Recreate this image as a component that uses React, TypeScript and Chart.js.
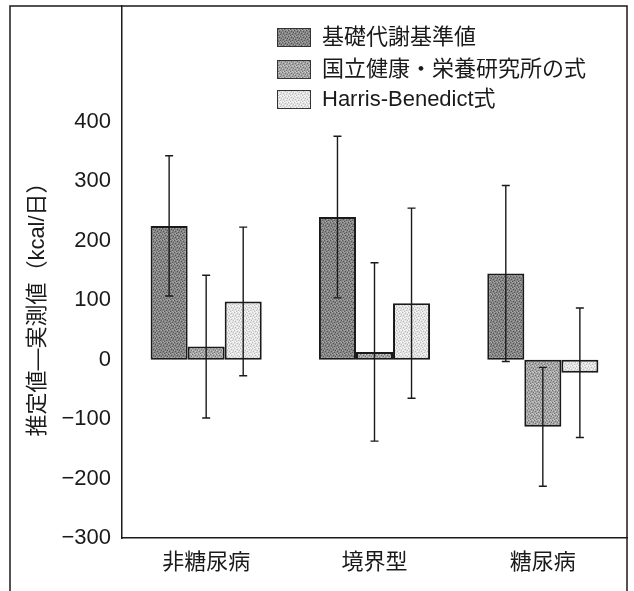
import React, { useEffect, useRef } from 'react';
import { Chart, registerables } from 'chart.js';
Chart.register(...registerables);

const categories = ['非糖尿病', '境界型', '糖尿病'];
const seriesLabels = ['基礎代謝基準値', '国立健康・栄養研究所の式', 'Harris-Benedict式'];
const basalValues = [225, 240, 145];
const basalErrors = [118, 136, 148];
const nationalValues = [22, 13, -113];
const nationalErrors = [120, 150, 100];
const hbValues = [98, 95, -22];
const hbErrors = [125, 160, 109];
const yTicks = [-300, -200, -100, 0, 100, 200, 300, 400];
const yAxisTitle = '推定値—実測値（kcal/日）';

const FONT = '"Liberation Sans", "Noto Sans CJK JP", sans-serif';
const INK = '#1a1a1a';

function makePattern(base: string, darkDot: string, lightDot: string) {
  const c = document.createElement('canvas');
  c.width = 6;
  c.height = 6;
  const g = c.getContext('2d')!;
  g.fillStyle = base;
  g.fillRect(0, 0, 6, 6);
  const dark = [[0, 0], [3, 1], [1, 3], [4, 4], [5, 2], [2, 5]];
  const light = [[2, 0], [5, 0], [0, 2], [3, 3], [1, 5], [4, 5]];
  g.fillStyle = darkDot;
  dark.forEach(([x, y]) => g.fillRect(x, y, 1, 1));
  g.fillStyle = lightDot;
  light.forEach(([x, y]) => g.fillRect(x, y, 1, 1));
  return g.createPattern(c, 'repeat')!;
}

const errorBarPlugin = {
  id: 'errorBars',
  afterDatasetsDraw(chart: any) {
    const ctx = chart.ctx;
    const ys = chart.scales.y;
    chart.data.datasets.forEach((ds: any, i: number) => {
      const meta = chart.getDatasetMeta(i);
      meta.data.forEach((bar: any, j: number) => {
        const v = ds.data[j];
        const e = ds.errors[j];
        const yTop = ys.getPixelForValue(v + e);
        const yBot = ys.getPixelForValue(v - e);
        const x = bar.x;
        ctx.save();
        ctx.strokeStyle = INK;
        ctx.lineWidth = 1.4;
        ctx.beginPath();
        ctx.moveTo(x, yTop);
        ctx.lineTo(x, yBot);
        ctx.moveTo(x - 4, yTop);
        ctx.lineTo(x + 4, yTop);
        ctx.moveTo(x - 4, yBot);
        ctx.lineTo(x + 4, yBot);
        ctx.stroke();
        ctx.restore();
      });
    });
  },
};

const decorPlugin = {
  id: 'decor',
  afterDraw(chart: any) {
    const ctx = chart.ctx;
    const area = chart.chartArea;
    ctx.save();
    // outer frame
    ctx.strokeStyle = INK;
    ctx.lineWidth = 1.5;
    ctx.beginPath();
    ctx.moveTo(10, chart.height);
    ctx.lineTo(10, area.top);
    ctx.lineTo(area.right, area.top);
    ctx.lineTo(area.right, chart.height);
    ctx.stroke();

    // y axis title
    ctx.save();
    ctx.translate(38, 304);
    ctx.rotate(-Math.PI / 2);
    ctx.fillStyle = INK;
    ctx.font = `22px ${FONT}`;
    ctx.textAlign = 'center';
    ctx.textBaseline = 'middle';
    ctx.fillText(yAxisTitle, 0, 0);
    ctx.restore();

    // legend
    const rows = [37, 69, 99];
    chart.data.datasets.forEach((ds: any, i: number) => {
      const cy = rows[i];
      ctx.fillStyle = ds.backgroundColor;
      ctx.fillRect(277, cy - 9, 33, 18);
      ctx.strokeStyle = '#333';
      ctx.lineWidth = 1;
      ctx.strokeRect(277.5, cy - 8.5, 33, 18);
      ctx.fillStyle = INK;
      ctx.font = `22px ${FONT}`;
      ctx.textAlign = 'left';
      ctx.textBaseline = 'middle';
      ctx.fillText(ds.label, 322, cy + 1);
    });
    ctx.restore();
  },
};

export default function App() {
  const ref = useRef<HTMLCanvasElement | null>(null);
  useEffect(() => {
    const canvas = ref.current!;
    const darkP = makePattern('#858585', '#555555', '#aaaaaa');
    const midP = makePattern('#a4a4a4', '#747474', '#cccccc');
    const lightP = makePattern('#e2e2e2', '#bcbcbc', '#ffffff');
    const common = {
      borderColor: INK,
      borderWidth: 2,
      borderSkipped: false,
      categoryPercentage: 0.66,
      barPercentage: 1.0,
    };
    const chart = new Chart(canvas, {
      type: 'bar',
      data: {
        labels: categories,
        datasets: [
          { ...common, label: seriesLabels[0], data: basalValues, errors: basalErrors, backgroundColor: darkP } as any,
          { ...common, label: seriesLabels[1], data: nationalValues, errors: nationalErrors, backgroundColor: midP } as any,
          { ...common, label: seriesLabels[2], data: hbValues, errors: hbErrors, backgroundColor: lightP } as any,
        ],
      },
      options: {
        animation: false,
        responsive: false,
        devicePixelRatio: 1,
        layout: { padding: { left: 0, right: 7, top: 6, bottom: 0 } },
        plugins: {
          legend: { display: false },
          tooltip: { enabled: false },
        },
        scales: {
          x: {
            grid: { display: false, drawTicks: false },
            border: { display: true, color: INK, width: 1.5 },
            ticks: {
              color: INK,
              font: { family: FONT, size: 22 },
              padding: 12,
            },
            afterFit: (s: any) => {
              s.height = 53;
              s.paddingLeft = 0;
              s.paddingRight = 0;
            },
          },
          y: {
            min: -300,
            max: 595,
            grid: { display: false, drawTicks: false },
            border: { display: true, color: INK, width: 1.5 },
            afterBuildTicks: (s: any) => {
              s.ticks = yTicks.map((v) => ({ value: v }));
            },
            ticks: {
              color: INK,
              padding: 11,
              font: { family: FONT, size: 22 },
              callback: (v: any) => {
                const n = Number(v);
                return n < 0 ? '−' + Math.abs(n) : String(n);
              },
            },
            afterFit: (s: any) => {
              s.width = 122;
              s.paddingTop = 0;
              s.paddingBottom = 0;
            },
          },
        },
      },
      plugins: [errorBarPlugin, decorPlugin],
    });
    return () => chart.destroy();
  }, []);
  return (
    <div style={{ position: 'absolute', left: 0, top: 0, width: 634, height: 591, background: '#fff' }}>
      <canvas ref={ref} width={634} height={591} style={{ width: 634, height: 591, display: 'block' }} />
    </div>
  );
}
